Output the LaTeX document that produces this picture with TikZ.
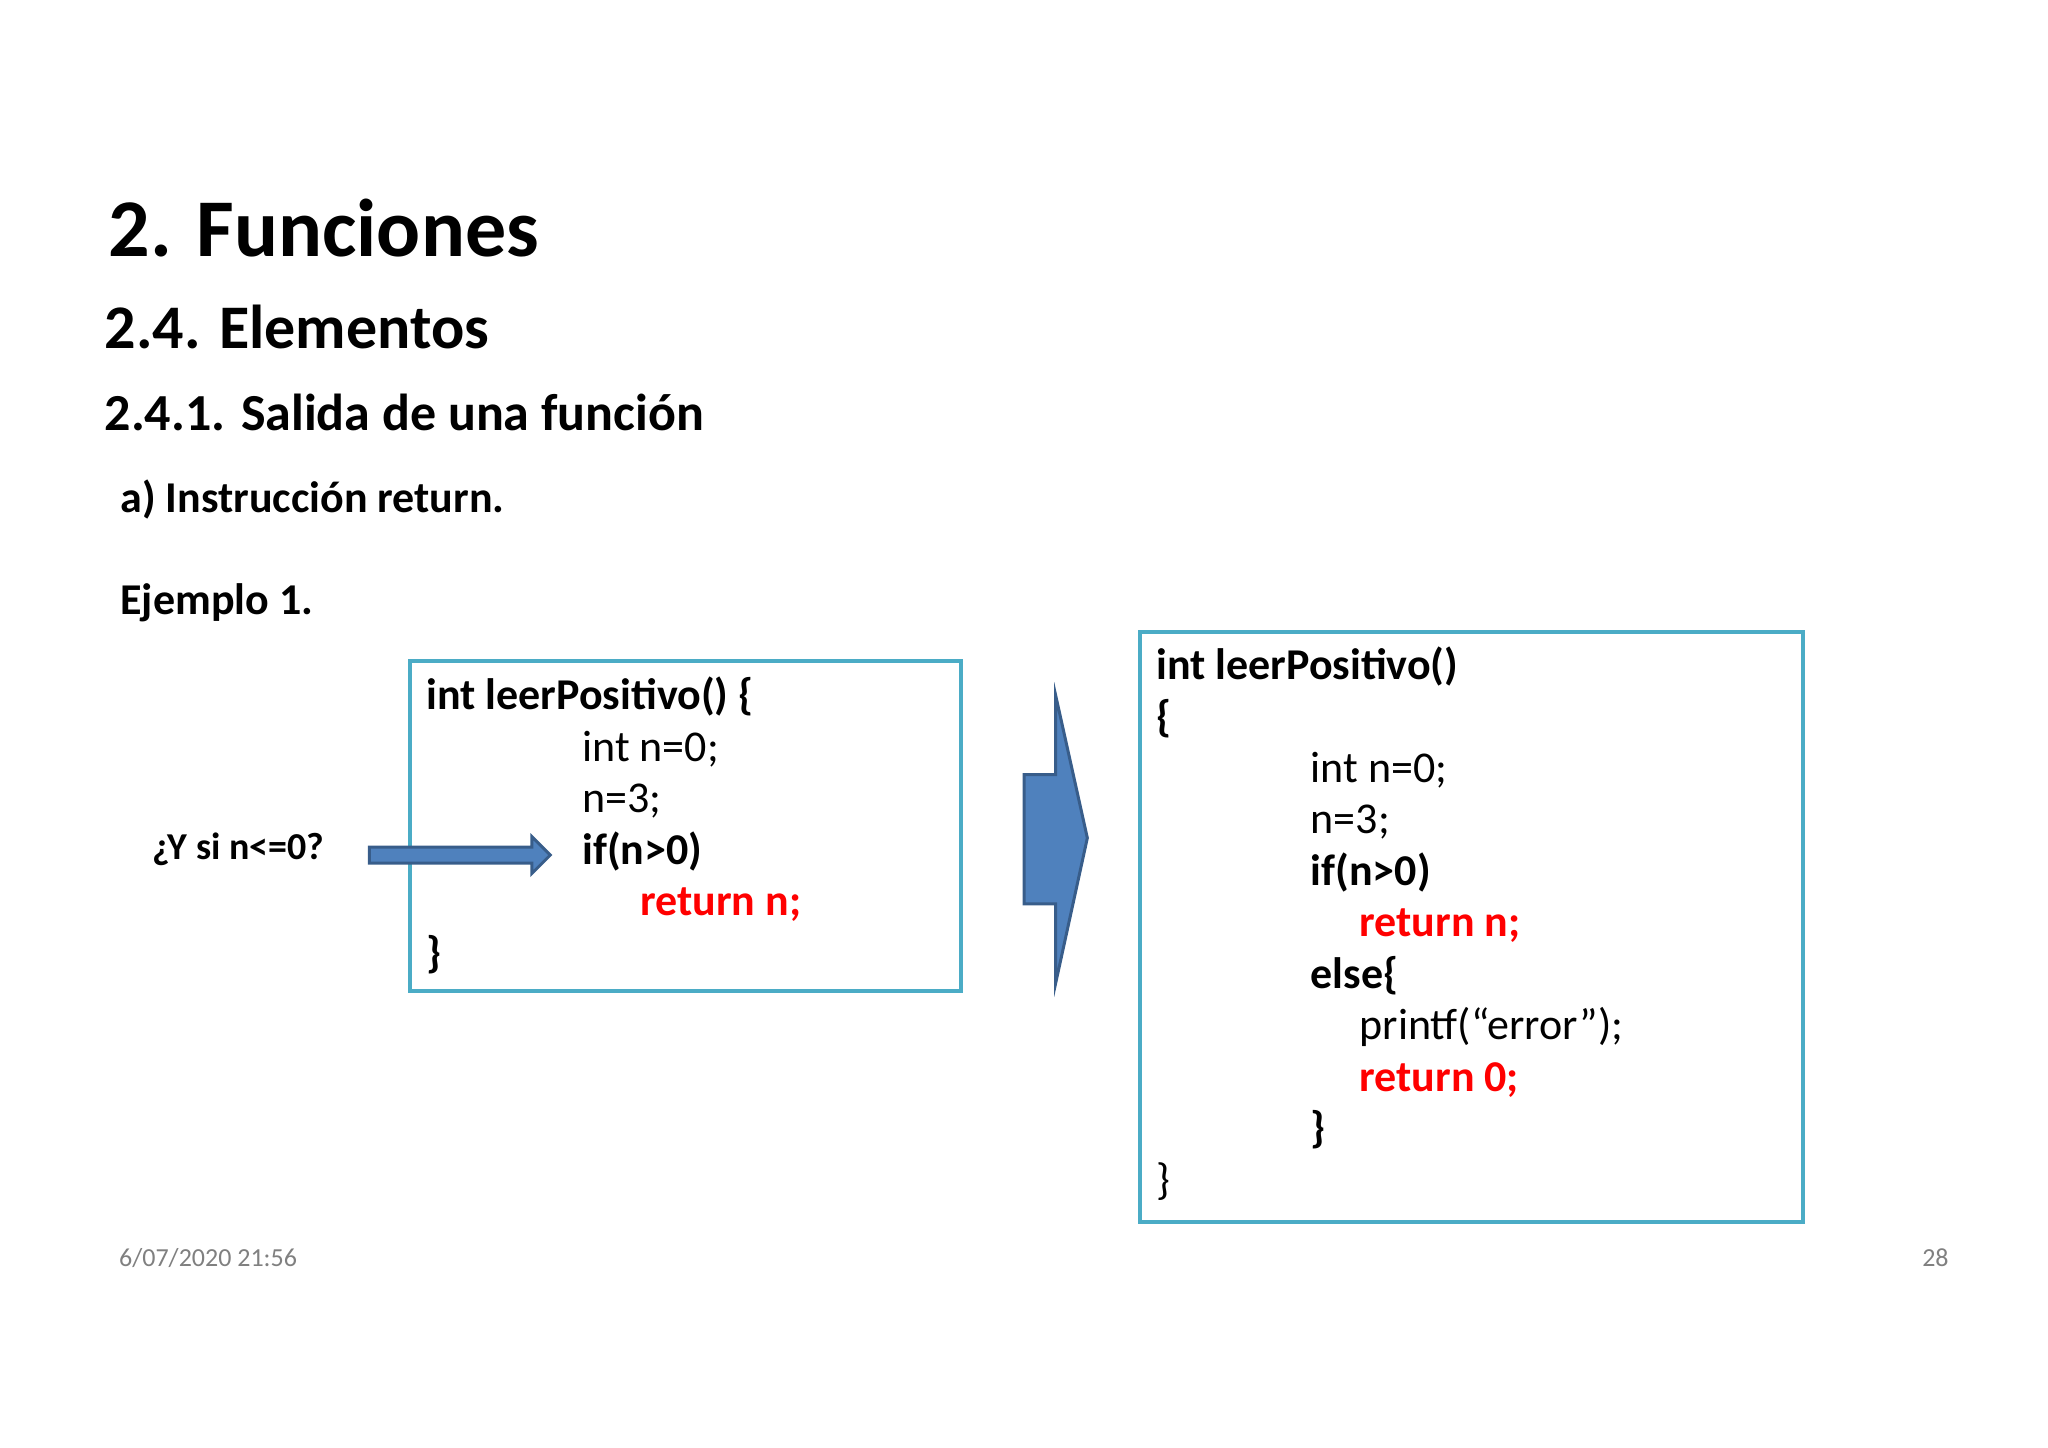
\documentclass[tikz,border=0pt]{standalone}
\usepackage{fontspec}
\setmainfont{Carlito}
\begin{document}
\begin{tikzpicture}[x=0.6598pt,y=-0.6598pt,
  t/.style={anchor=base west,inner sep=0pt,font=\fontsize{22}{26}\selectfont},
  tb/.style={t,font=\fontsize{22}{26}\selectfont\bfseries},
  tr/.style={tb,text={rgb,255:red,255;green,0;blue,0}},
  codebox/.style={draw={rgb,255:red,75;green,172;blue,198},line width=2pt},
  blk/.style={fill={rgb,255:red,79;green,129;blue,189},draw={rgb,255:red,56;green,93;blue,138},line width=1.5pt,line join=miter}]
\useasboundingbox (0,0) rectangle (1552,1097);
\node[anchor=base west,inner sep=0pt,font=\fontsize{41}{48}\selectfont\bfseries] (h1) at (82,194) {2. Funciones};
\node[anchor=base west,inner sep=0pt,font=\fontsize{31}{36}\selectfont\bfseries] (h2) at (79,264) {2.4. Elementos};
\node[anchor=base west,inner sep=0pt,font=\fontsize{26}{30}\selectfont\bfseries] (h3) at (79,326) {2.4.1. Salida de una función};
\node[anchor=base west,inner sep=0pt,font=\fontsize{22}{26}\selectfont\bfseries] (h4) at (91,388) {a) Instrucción return.};
\node[anchor=base west,inner sep=0pt,font=\fontsize{22}{26}\selectfont\bfseries] (h5) at (91,466) {Ejemplo 1.};
\node[anchor=base west,inner sep=0pt,font=\fontsize{19}{22}\selectfont\bfseries] (q) at (115,651) {¿Y si n<=0?};
\node[anchor=base west,inner sep=0pt,font=\fontsize{13}{16}\selectfont,text={rgb,255:red,128;green,128;blue,128}] (d) at (90,960) {6/07/2020 21:56};
\node[anchor=base east,inner sep=0pt,font=\fontsize{13}{16}\selectfont,text={rgb,255:red,128;green,128;blue,128}] (p) at (1477,960) {28};
\draw[codebox] (311,501) rectangle (728,751);
\draw[codebox] (864,479) rectangle (1366,926);
\node[tb] (a1) at (323,538) {int leerPositivo() \{};
\node[t] (a2) at (441,577) {int n=0;};
\node[t] (a3) at (441,616) {n=3;};
\node[tb] (a4) at (441,655) {if(n>0)};
\node[tr] (a5) at (485,694) {return n;};
\node[tb] (a6) at (323,733) {\}};
\node[tb] (b1) at (876,515) {int leerPositivo()};
\node[tb] (b2) at (876,554) {\{};
\node[t] (b3) at (993,593) {int n=0;};
\node[t] (b4) at (993,632) {n=3;};
\node[tb] (b5) at (993,671) {if(n>0)};
\node[tr] (b6) at (1030,710) {return n;};
\node[tb] (b7) at (993,749) {else\{};
\node[t] (b8) at (1030,788) {printf(“error”);};
\node[tr] (b9) at (1030,827) {return 0;};
\node[tb] (b10) at (993,866) {\}};
\node[t] (b11) at (876,905) {\}};
\draw[blk] (280,642) -- (403,642) -- (403,634) -- (417,648) -- (403,662) -- (403,654) -- (280,654) -- cycle;
\draw[blk] (776,587) -- (800,587) -- (800,527) -- (824,635) -- (800,745) -- (800,685) -- (776,685) -- cycle;
\end{tikzpicture}
\end{document}
